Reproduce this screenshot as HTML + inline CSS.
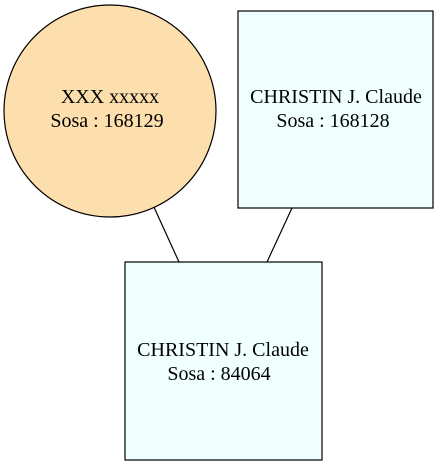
<!DOCTYPE html>
<html><head><style>body{margin:0;background:#fff}</style></head><body>
<svg width="441" height="465" viewBox="0 0 441 465" xmlns="http://www.w3.org/2000/svg" font-family="Liberation Serif, serif" font-size="20">
<rect width="441" height="465" fill="#fff"/>
<line x1="153" y1="205" x2="179" y2="262" stroke="#000" stroke-width="1.2"/>
<line x1="292" y1="208" x2="267" y2="262" stroke="#000" stroke-width="1.2"/>
<circle cx="110" cy="111" r="106" fill="#fddead" stroke="#000" stroke-width="1.2"/>
<text x="110" y="103" text-anchor="middle">XXX xxxxx</text>
<text x="107" y="127" text-anchor="middle">Sosa : 168129</text>
<rect x="238" y="11" width="195" height="197" fill="#f0ffff" stroke="#000" stroke-width="1.2"/>
<text x="336" y="103" text-anchor="middle">CHRISTIN J. Claude</text>
<text x="333" y="127" text-anchor="middle">Sosa : 168128</text>
<rect x="125" y="262" width="197" height="198" fill="#f0ffff" stroke="#000" stroke-width="1.2"/>
<text x="223" y="356" text-anchor="middle">CHRISTIN J. Claude</text>
<text x="219" y="380" text-anchor="middle">Sosa : 84064</text>
</svg>
</body></html>
